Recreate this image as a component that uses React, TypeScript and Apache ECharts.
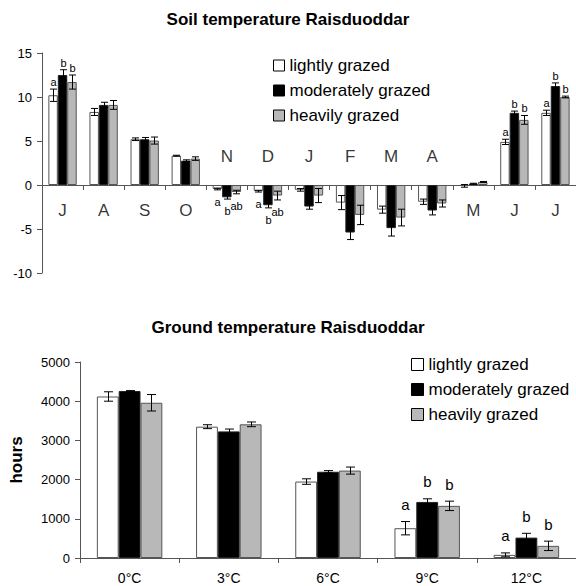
import React, { useEffect, useRef } from "react";
import * as echarts from "echarts";

// ---- Soil temperature (top chart) ----
const months = ["J", "A", "S", "O", "N", "D", "J", "F", "M", "A", "M", "J", "J"];
const lightSoil = [10.2, 8.3, 5.2, 3.33, -0.45, -0.7, -0.55, -2.0, -2.8, -1.9, -0.1, 4.9, 8.2];
const lightSoilErr = [0.7, 0.4, 0.15, 0.05, 0.1, 0.1, 0.15, 0.8, 0.4, 0.3, 0.15, 0.3, 0.3];
const modSoil = [12.5, 9.1, 5.2, 2.76, -1.4, -2.3, -2.45, -5.4, -4.9, -2.9, 0.15, 8.2, 11.25];
const modSoilErr = [0.6, 0.3, 0.2, 0.1, 0.2, 0.3, 0.3, 0.8, 0.9, 0.5, 0.05, 0.2, 0.35];
const heavySoil = [11.7, 9.1, 5.05, 3.0, -0.8, -1.2, -1.2, -3.4, -3.7, -2.1, 0.35, 7.4, 10.0];
const heavySoilErr = [0.8, 0.5, 0.4, 0.2, 0.2, 0.5, 0.8, 1.1, 0.95, 0.4, 0.05, 0.5, 0.1];
const lightSoilLetters = ["a", "", "", "", "a", "a", "", "", "", "", "", "a", "a"];
const modSoilLetters = ["b", "", "", "", "b", "b", "", "", "", "", "", "b", "b"];
const heavySoilLetters = ["b", "", "", "", "ab", "ab", "", "", "", "", "", "b", "b"];
const soilTicks = { min: -10, max: 15, interval: 5 };

// ---- Ground temperature (bottom chart) ----
const thresholds = ["0°C", "3°C", "6°C", "9°C", "12°C"];
const lightHours = [4120, 3350, 1950, 760, 80];
const lightHoursErr = [120, 50, 70, 170, 50];
const modHours = [4260, 3230, 2200, 1430, 520];
const modHoursErr = [10, 60, 30, 80, 110];
const heavyHours = [3960, 3410, 2230, 1330, 310];
const heavyHoursErr = [210, 60, 90, 120, 120];
const lightHoursLetters = ["", "", "", "a", "a"];
const modHoursLetters = ["", "", "", "b", "b"];
const heavyHoursLetters = ["", "", "", "b", "b"];
const hoursTicks = { min: 0, max: 5000, interval: 1000 };

const seriesNames = ["lightly grazed", "moderately grazed", "heavily grazed"];
const FONT = "'Liberation Sans', Arial, sans-serif";

const barStyles = [
  { color: "#ffffff", borderColor: "#555555", borderWidth: 1 },
  { color: "#000000", borderColor: "#222222", borderWidth: 1 },
  { color: "#b8b8b8", borderColor: "#555555", borderWidth: 1 },
];

function errSeries(
  g: number,
  s: number,
  means: number[],
  errs: number[],
  letters: string[],
  frac: number,
  cap: number,
  fontSize: number,
  abovePad: number,
  belowPad: number
) {
  return {
    type: "custom",
    xAxisIndex: g,
    yAxisIndex: g,
    z: 10,
    silent: true,
    itemStyle: { color: "#000" },
    data: means.map((m, i) => [i, m, errs[i]]),
    renderItem: (params: any, api: any) => {
      const i = api.value(0);
      const m = api.value(1);
      const e = api.value(2);
      const band = api.size([1, 0])[0];
      const cx = Math.round(api.coord([i, m])[0] + (s - 1) * band * frac) + 0.5;
      const yHi = api.coord([i, m + e])[1];
      const yLo = api.coord([i, m - e])[1];
      const ls = { stroke: "#000", lineWidth: 1 };
      const children: any[] = [
        { type: "line", shape: { x1: cx, y1: yHi, x2: cx, y2: yLo }, style: ls },
        { type: "line", shape: { x1: cx - cap / 2, y1: yHi, x2: cx + cap / 2, y2: yHi }, style: ls },
        { type: "line", shape: { x1: cx - cap / 2, y1: yLo, x2: cx + cap / 2, y2: yLo }, style: ls },
      ];
      const letter = letters[params.dataIndex];
      if (letter) {
        const above = m >= 0;
        children.push({
          type: "text",
          x: cx,
          y: above ? yHi - abovePad : yLo + belowPad,
          style: {
            text: letter,
            align: "center",
            verticalAlign: "middle",
            fontSize,
            fontFamily: FONT,
            fill: "#000000",
            stroke: "none",
            lineWidth: 0,
          },
        });
      }
      return { type: "group", children };
    },
  };
}

export default function App() {
  const ref = useRef<HTMLDivElement>(null);
  useEffect(() => {
    if (!ref.current) return;
    const chart = echarts.init(ref.current, null, { renderer: "svg" });
    const axisLine = { lineStyle: { color: "#555555", width: 1 } };
    const monthY = months.map((_, i) =>
      Math.max(lightSoil[i], modSoil[i], heavySoil[i]) < 0 ? 3.2 : -2.85
    );
    const legendData = seriesNames.map((n, k) => ({
      name: n,
      itemStyle: { color: barStyles[k].color, borderColor: "#000", borderWidth: 1 },
    }));
    const option: any = {
      animation: false,
      textStyle: { fontFamily: FONT },
      title: [
        {
          text: "Soil temperature Raisduoddar",
          left: "center",
          top: 11,
          padding: 0,
          textStyle: { fontSize: 17, fontWeight: "bold", color: "#000", fontFamily: FONT },
        },
        {
          text: "Ground temperature Raisduoddar",
          left: "center",
          top: 319,
          padding: 0,
          textStyle: { fontSize: 17, fontWeight: "bold", color: "#000", fontFamily: FONT },
        },
      ],
      legend: [
        {
          orient: "vertical",
          left: 273,
          top: 57,
          padding: 0,
          itemWidth: 11,
          itemHeight: 11,
          itemGap: 8,
          icon: "rect",
          selectedMode: false,
          data: legendData,
          textStyle: { fontSize: 17, color: "#000", fontFamily: FONT },
        },
        {
          orient: "vertical",
          left: 411,
          top: 356,
          padding: 0,
          itemWidth: 12,
          itemHeight: 12,
          itemGap: 8,
          icon: "rect",
          selectedMode: false,
          data: legendData,
          textStyle: { fontSize: 17, color: "#000", fontFamily: FONT },
        },
      ],
      grid: [
        { left: 42, top: 53, width: 537, height: 220 },
        { left: 71, top: 362, width: 506, height: 196 },
      ],
      xAxis: [
        {
          type: "category",
          gridIndex: 0,
          data: months.map((_, i) => String(i)),
          axisLine,
          axisTick: { show: true, length: 5, lineStyle: { color: "#555555" } },
          axisLabel: { show: false },
          splitLine: { show: false },
        },
        {
          type: "category",
          gridIndex: 1,
          data: thresholds,
          axisLine,
          axisTick: { show: true, length: 5, lineStyle: { color: "#555555" } },
          axisLabel: { fontSize: 14, color: "#000", margin: 13, fontFamily: FONT },
          splitLine: { show: false },
        },
      ],
      yAxis: [
        {
          type: "value",
          gridIndex: 0,
          min: soilTicks.min,
          max: soilTicks.max,
          interval: soilTicks.interval,
          axisLine: { show: true, ...axisLine },
          axisTick: { show: true, length: 5, lineStyle: { color: "#555555" } },
          axisLabel: { fontSize: 13, color: "#000", margin: 10, fontFamily: FONT },
          splitLine: { show: false },
        },
        {
          type: "value",
          gridIndex: 1,
          min: hoursTicks.min,
          max: hoursTicks.max,
          interval: hoursTicks.interval,
          name: "hours",
          nameLocation: "middle",
          nameRotate: 90,
          nameGap: 55,
          nameTextStyle: { fontSize: 17, fontWeight: "bold", color: "#000", fontFamily: FONT },
          axisLine: { show: true, ...axisLine },
          axisTick: { show: true, length: 5, lineStyle: { color: "#555555" } },
          axisLabel: {
            fontSize: 13,
            color: "#000",
            margin: 10,
            fontFamily: FONT,
            formatter: (v: number) => String(v),
          },
          splitLine: { show: false },
        },
      ],
      series: [
        ...[lightSoil, modSoil, heavySoil].map((d, k) => ({
          type: "bar",
          name: seriesNames[k],
          xAxisIndex: 0,
          yAxisIndex: 0,
          data: d,
          barWidth: "23%",
          barGap: "0%",
          itemStyle: barStyles[k],
        })),
        ...[lightHours, modHours, heavyHours].map((d, k) => ({
          type: "bar",
          name: seriesNames[k],
          xAxisIndex: 1,
          yAxisIndex: 1,
          data: d,
          barWidth: "22%",
          barGap: "0%",
          itemStyle: barStyles[k],
        })),
        errSeries(0, 0, lightSoil, lightSoilErr, lightSoilLetters, 0.23, 7, 11, 7, 12),
        errSeries(0, 1, modSoil, modSoilErr, modSoilLetters, 0.23, 7, 11, 7, 12),
        errSeries(0, 2, heavySoil, heavySoilErr, heavySoilLetters, 0.23, 7, 11, 7, 12),
        errSeries(1, 0, lightHours, lightHoursErr, lightHoursLetters, 0.22, 9, 15, 17, 12),
        errSeries(1, 1, modHours, modHoursErr, modHoursLetters, 0.22, 9, 15, 17, 12),
        errSeries(1, 2, heavyHours, heavyHoursErr, heavyHoursLetters, 0.22, 9, 15, 17, 12),
        {
          type: "scatter",
          name: "months",
          xAxisIndex: 0,
          yAxisIndex: 0,
          symbolSize: 0,
          silent: true,
          data: months.map((_, i) => [i, monthY[i]]),
          label: {
            show: true,
            position: "inside",
            formatter: (p: any) => months[p.dataIndex],
            fontSize: 17,
            color: "#000",
            fontFamily: FONT,
          },
        },
      ],
    };
    chart.setOption(option);
    return () => chart.dispose();
  }, []);
  return (
    <div
      ref={ref}
      style={{ position: "fixed", left: 0, top: 0, width: 576, height: 586, background: "#fff" }}
    />
  );
}
